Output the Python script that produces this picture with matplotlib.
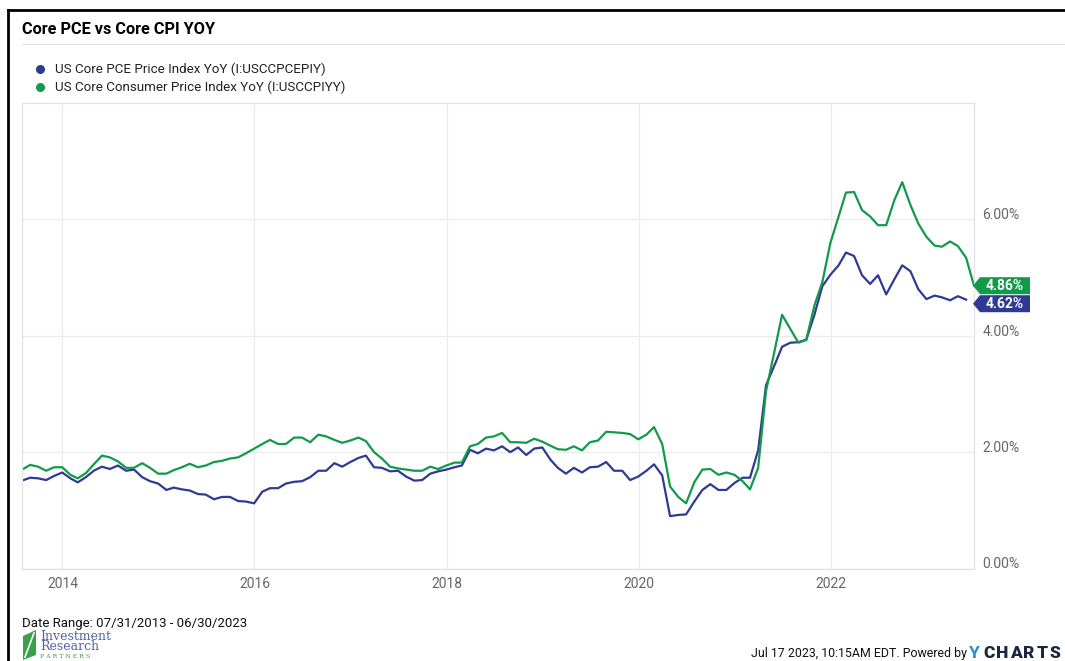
import numpy as np
import pandas as pd
import matplotlib
matplotlib.use('Agg')
import matplotlib.pyplot as plt
from matplotlib.lines import Line2D
from matplotlib.patches import Polygon
from matplotlib.transforms import IdentityTransform

plt.rcParams['font.family'] = ['Roboto', 'DejaVu Sans']

# месячные данные, конец месяца
dates = pd.date_range('2013-07-31', '2023-06-30', freq='ME')

cpi = [1.70, 1.78, 1.75, 1.68, 1.74, 1.74, 1.61, 1.55, 1.64, 1.79, 1.94, 1.91,
       1.84, 1.73, 1.73, 1.81, 1.73, 1.63, 1.63, 1.69, 1.74, 1.80, 1.74, 1.77,
       1.83, 1.85, 1.89, 1.91, 1.98, 2.06, 2.14, 2.21, 2.14, 2.14, 2.25, 2.25,
       2.17, 2.30, 2.27, 2.21, 2.16, 2.20, 2.25, 2.19, 2.00, 1.89, 1.75, 1.72,
       1.70, 1.68, 1.68, 1.75, 1.71, 1.77, 1.82, 1.82, 2.10, 2.14, 2.25, 2.27,
       2.33, 2.17, 2.17, 2.16, 2.23, 2.18, 2.11, 2.05, 2.04, 2.10, 2.03, 2.17,
       2.20, 2.35, 2.34, 2.33, 2.31, 2.22, 2.30, 2.43, 2.14, 1.41, 1.23, 1.12,
       1.48, 1.70, 1.71, 1.61, 1.65, 1.61, 1.50, 1.36, 1.73, 3.05, 3.71, 4.36,
       4.12, 3.88, 3.93, 4.52, 4.92, 5.60, 6.05, 6.46, 6.47, 6.16, 6.05, 5.90,
       5.90, 6.33, 6.64, 6.25, 5.93, 5.70, 5.55, 5.53, 5.62, 5.54, 5.34, 4.86]

# PCE за июнь 2023 ещё не опубликован
pce = [1.51, 1.56, 1.55, 1.52, 1.59, 1.65, 1.55, 1.48, 1.57, 1.68, 1.75, 1.71,
       1.77, 1.68, 1.70, 1.57, 1.50, 1.46, 1.35, 1.39, 1.36, 1.34, 1.28, 1.27,
       1.19, 1.23, 1.23, 1.16, 1.15, 1.12, 1.32, 1.38, 1.38, 1.46, 1.49, 1.50,
       1.57, 1.68, 1.68, 1.81, 1.75, 1.83, 1.90, 1.94, 1.74, 1.73, 1.67, 1.68,
       1.58, 1.51, 1.52, 1.63, 1.67, 1.70, 1.74, 1.77, 2.04, 1.98, 2.06, 2.03,
       2.10, 2.00, 2.08, 1.95, 2.06, 2.08, 1.87, 1.73, 1.63, 1.73, 1.65, 1.74,
       1.75, 1.83, 1.68, 1.68, 1.52, 1.58, 1.68, 1.79, 1.60, 0.90, 0.92, 0.93,
       1.15, 1.35, 1.45, 1.35, 1.35, 1.47, 1.56, 1.56, 2.03, 3.15, 3.48, 3.81,
       3.88, 3.89, 3.93, 4.36, 4.85, 5.05, 5.21, 5.43, 5.37, 5.04, 4.89, 5.04,
       4.71, 4.97, 5.21, 5.11, 4.80, 4.63, 4.69, 4.66, 4.61, 4.68, 4.62]

names = ['US Core PCE Price Index YoY (I:USCCPCEPIY)',
         'US Core Consumer Price Index YoY (I:USCCPIYY)']
year_ticks = [2014, 2016, 2018, 2020, 2022]
y_ticks = [0, 2, 4, 6]

blue = '#2e3a94'
green = '#129a4b'
grey_txt = '#666666'

W, H = 1065, 661
fig = plt.figure(figsize=(W / 100, H / 100), dpi=100)

def fx(px):
    return px / W

def fy(py):
    return 1 - py / H

ax = fig.add_axes([fx(22), fy(568.5), fx(974) - fx(22), fy(103) - fy(568.5)])

ax.plot(dates[:len(pce)], pce, color=blue, lw=1.6, solid_joinstyle='round')
ax.plot(dates, cpi, color=green, lw=1.6, solid_joinstyle='round')

ax.set_xlim(dates[0], dates[-1])
ax.set_ylim(0, 8)
ax.set_xticks([pd.Timestamp(f'{y}-01-01') for y in year_ticks])
ax.set_xticklabels([str(y) for y in year_ticks])
ax.set_yticks(y_ticks)
ax.set_yticklabels([f'{v:.2f}%' for v in y_ticks])
ax.yaxis.tick_right()
ax.tick_params(axis='both', length=0, colors=grey_txt, labelsize=10)
ax.tick_params(axis='x', pad=6)
ax.tick_params(axis='y', pad=6)
for lab in ax.get_yticklabels():
    lab.set_verticalalignment('baseline')
ax.grid(True, color='#ececec', lw=0.9)
for sp in ax.spines.values():
    sp.set_color('#e2e2e2')
    sp.set_linewidth(0.9)

# плашки с последними значениями справа
def end_label(value, ypx, color):
    x0, x1, x2 = 973, 980, 1030
    h = 8.5
    yd = H - ypx
    poly = Polygon([[x0, yd], [x1, yd + h], [x2, yd + h], [x2, yd - h], [x1, yd - h]],
                   closed=True, facecolor=color, edgecolor='none',
                   transform=IdentityTransform())
    fig.add_artist(poly)
    fig.text(fx(1005), fy(ypx), f'{value:.2f}%', color='white', fontsize=10,
             fontweight='bold', ha='center', va='center')

g_y = H - ax.transData.transform((0, cpi[-1]))[1]
b_y = H - ax.transData.transform((0, pce[-1]))[1]
b_y = max(b_y, g_y + 18)
end_label(cpi[-1], g_y, green)
end_label(pce[-1], b_y, blue)

# заголовок и легенда
fig.text(fx(22), fy(30), 'Core PCE vs Core CPI YOY', fontsize=11.7,
         fontweight='bold', ha='left', va='center')
fig.add_artist(Line2D([fx(22), 1], [fy(44), fy(44)], color='#e4e4e4', lw=0.9))
for k, (name, col) in enumerate(zip(names, [blue, green])):
    yy = 69 + 18 * k
    fig.add_artist(Line2D([fx(40)], [fy(yy)], marker='o', ms=5.5, color=col,
                          linestyle='none'))
    fig.text(fx(55), fy(yy), name, fontsize=9.6, ha='left', va='center',
             color='#222222')

# рамка скриншота
fig.add_artist(Line2D([fx(8), fx(8)], [0, fy(10)], color='black', lw=2))
fig.add_artist(Line2D([fx(8), 1], [fy(10), fy(10)], color='black', lw=2))

# подвал
fig.text(fx(22), fy(623), 'Date Range: 07/31/2013 - 06/30/2023', fontsize=9.5,
         ha='left', va='center', color='#111111')
leaf = Polygon([[fx(23), fy(660)], [fx(23), fy(636)], [fx(36), fy(630)],
                [fx(36), fy(655)]], closed=True, facecolor='#3aa04a',
               edgecolor='none', transform=fig.transFigure)
fig.add_artist(leaf)
fig.add_artist(Line2D([fx(25), fx(34)], [fy(657), fy(633)], color='white', lw=1.2))
fig.text(fx(40), fy(636), 'Investment', fontsize=9, family='DejaVu Serif',
         color='#5562a8', ha='left', va='center')
fig.text(fx(40), fy(647), 'Research', fontsize=9, family='DejaVu Serif',
         color='#5562a8', ha='left', va='center')
fig.text(fx(40), fy(657), 'P A R T N E R S', fontsize=4.5, family='DejaVu Serif',
         color='#3aa04a', ha='left', va='center')

fig.text(fx(967), fy(653), 'Jul 17 2023, 10:15AM EDT. Powered by', fontsize=8.9,
         ha='right', va='center', color='#111111')
fig.text(fx(969), fy(653), 'Y', fontsize=12.5, fontweight='bold', color='#1e90d8',
         ha='left', va='center')
for k, ch in enumerate('CHARTS'):
    fig.text(fx(983 + 13.3 * k), fy(653), ch, fontsize=12.5, fontweight='heavy',
             color='#1c2640', ha='left', va='center')

fig.savefig('out.png', dpi=100)
